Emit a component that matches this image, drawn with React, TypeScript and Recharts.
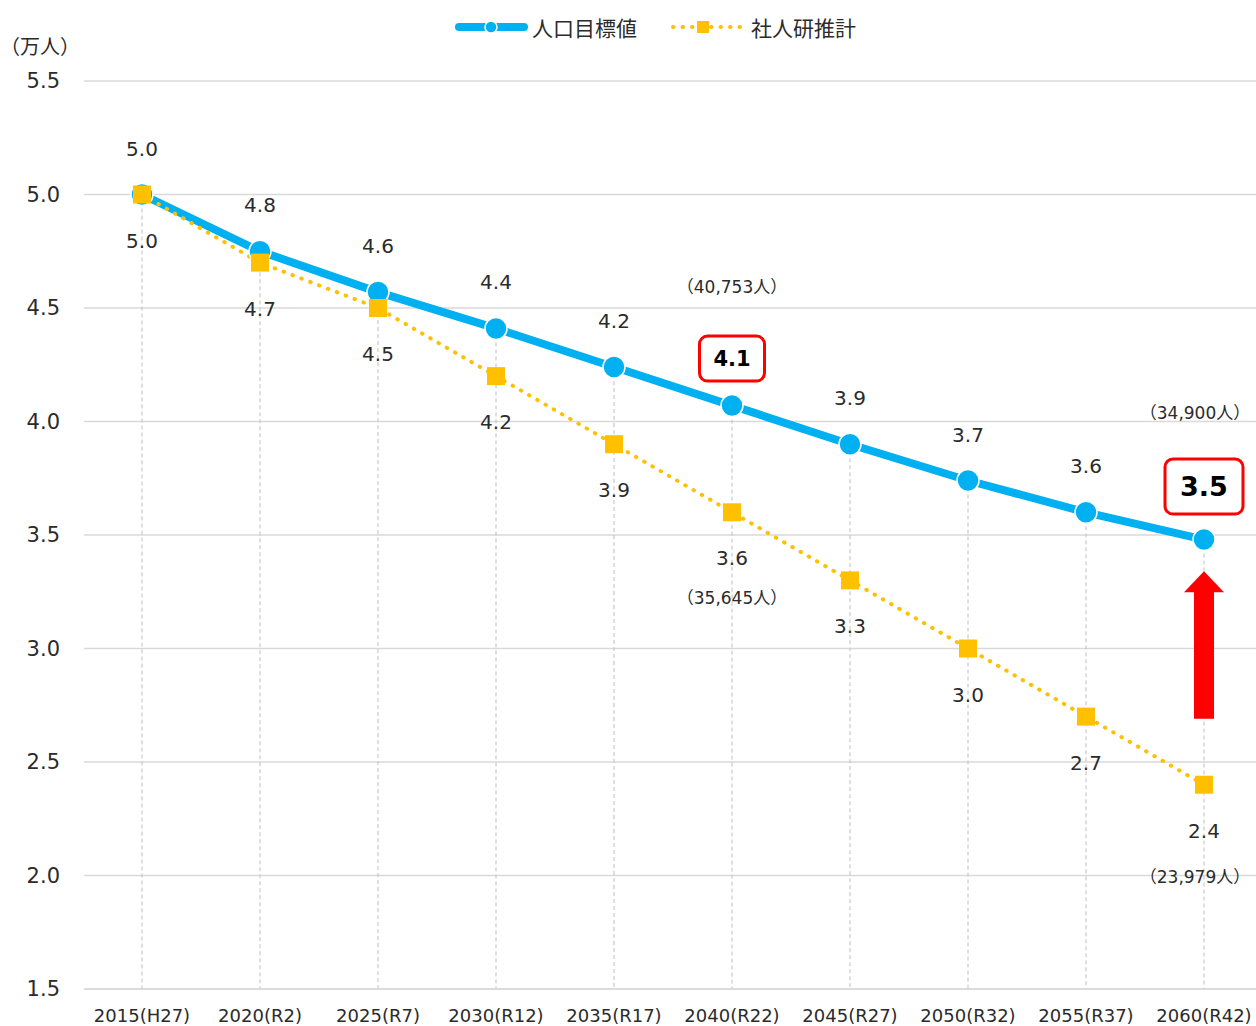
import React from "react";
import {
  LineChart, Line, XAxis, YAxis, CartesianGrid, LabelList, ReferenceLine,
} from "recharts";

const years = [
  "2015(H27)", "2020(R2)", "2025(R7)", "2030(R12)", "2035(R17)",
  "2040(R22)", "2045(R27)", "2050(R32)", "2055(R37)", "2060(R42)",
];
// 人口目標値 (万人)
const targetValues = [5.0, 4.75, 4.57, 4.41, 4.24, 4.07, 3.9, 3.74, 3.6, 3.48];
// 社人研推計 (万人)
const ipssValues = [5.0, 4.7, 4.5, 4.2, 3.9, 3.6, 3.3, 3.0, 2.7, 2.4];
const yTicks = [1.5, 2.0, 2.5, 3.0, 3.5, 4.0, 4.5, 5.0, 5.5];

// highlighted points and the people counts written next to them
const highlightYears = ["2040(R22)", "2060(R42)"];
const targetNotes = ["（40,753人）", "（34,900人）"];
const ipssNotes = ["（35,645人）", "（23,979人）"];
// red arrow at the last year, from / to (万人)
const arrowYear = "2060(R42)";
const arrowFrom = 2.69;
const arrowTo = 3.34;

const BLUE = "#00b0f0";
const ORANGE = "#ffc000";
const TEXT = "#2b2b2b";
const FONT = "'DejaVu Sans', 'Noto Sans CJK JP', sans-serif";

const data = years.map((year, i) => ({
  year,
  target: targetValues[i],
  ipss: ipssValues[i],
}));

const TargetLabel = (props: any) => {
  const { x, y, value, index } = props;
  const hi = highlightYears.indexOf(years[index]);
  const text = Number(value).toFixed(1);
  if (hi < 0) {
    return (
      <text x={x} y={y - 46} textAnchor="middle" dominantBaseline="central"
        fontSize={20} fill={TEXT} fontFamily={FONT}>
        {text}
      </text>
    );
  }
  const big = hi === 1;
  const w = big ? 78 : 65;
  const h = big ? 55 : 45;
  const cy = y - (big ? 53 : 47);
  return (
    <g>
      <rect x={x - w / 2} y={cy - h / 2} width={w} height={h} rx={8}
        fill="#fff" stroke="#ff0000" strokeWidth={3} />
      <text x={x} y={cy} textAnchor="middle" dominantBaseline="central"
        fontSize={big ? 27 : 21} fontWeight="bold" fill="#000" fontFamily={FONT}>
        {text}
      </text>
      <text x={x - (big ? 9 : 0)} y={y - (big ? 127 : 119)} textAnchor="middle" dominantBaseline="central"
        fontSize={17} fill={TEXT} fontFamily={FONT}>
        {targetNotes[hi]}
      </text>
    </g>
  );
};

const IpssLabel = (props: any) => {
  const { x, y, value, index } = props;
  const hi = highlightYears.indexOf(years[index]);
  return (
    <g>
      <text x={x} y={y + 46} textAnchor="middle" dominantBaseline="central"
        fontSize={20} fill={TEXT} fontFamily={FONT}>
        {Number(value).toFixed(1)}
      </text>
      {hi >= 0 && (
        <text x={x - (hi === 1 ? 9 : 0)} y={y + (hi === 1 ? 92 : 86)} textAnchor="middle" dominantBaseline="central"
          fontSize={17} fill={TEXT} fontFamily={FONT}>
          {ipssNotes[hi]}
        </text>
      )}
    </g>
  );
};

const SquareDot = (props: any) => {
  const { cx, cy } = props;
  if (cx == null || cy == null) return null;
  return <rect x={cx - 9} y={cy - 9} width={18} height={18} fill={ORANGE} />;
};

const Arrow = (props: any) => {
  const { x1, y1, x2, y2 } = props;
  if (x1 == null) return null;
  const x = (x1 + x2) / 2;
  const top = Math.min(y1, y2);
  const bottom = Math.max(y1, y2);
  const pts = [
    [x, top], [x + 20, top + 21], [x + 10, top + 21], [x + 10, bottom],
    [x - 10, bottom], [x - 10, top + 21], [x - 20, top + 21],
  ].map((p) => p.join(",")).join(" ");
  return <polygon points={pts} fill="#ff0000" />;
};

const DropLine = (props: any) => {
  const { x1, y1, x2, y2 } = props;
  if (x1 == null) return null;
  return <line x1={x1} y1={y1} x2={x2} y2={y2} stroke="#bfbfbf" strokeWidth={1} strokeDasharray="4 3" />;
};

export default function App() {
  return (
    <div style={{ position: "absolute", left: 0, top: 0, width: 1256, height: 1026, overflow: "hidden", background: "#fff", fontFamily: FONT }}>
      {/* legend */}
      <div style={{ position: "absolute", left: 450, top: 9, display: "flex", alignItems: "center", fontSize: 21, color: TEXT }}>
        <svg width={82} height={36}>
          <line x1={9} y1={18} x2={74} y2={18} stroke={BLUE} strokeWidth={8} strokeLinecap="round" />
          <circle cx={41} cy={18} r={6} fill={BLUE} stroke="#fff" strokeWidth={1.5} />
        </svg>
        <span>人口目標値</span>
        <svg width={84} height={36} style={{ marginLeft: 30 }}>
          <line x1={6} y1={18} x2={76} y2={18} stroke={ORANGE} strokeWidth={4} strokeDasharray="0.5 9" strokeLinecap="round" />
          <rect x={30} y={12} width={12} height={12} fill={ORANGE} />
        </svg>
        <span>社人研推計</span>
      </div>
      <div style={{ position: "absolute", left: 0, top: 31, fontSize: 20, color: TEXT }}>（万人）</div>

      <LineChart width={1256} height={1026} data={data}
        margin={{ top: 81, right: 0, bottom: 0, left: 0 }}>
        <CartesianGrid vertical={false} stroke="#d9d9d9" strokeWidth={1.5} />
        <XAxis dataKey="year" padding={{ left: 58, right: 52 }} height={37}
          axisLine={{ stroke: "#d9d9d9", strokeWidth: 1.5 }} tickLine={false} tickSize={0} tickMargin={20}
          tick={{ fontSize: 18, fill: TEXT, fontFamily: FONT }} interval={0} />
        <YAxis domain={[1.5, 5.5]} ticks={yTicks} width={84} axisLine={false} tickLine={false}
          tickSize={0} tickMargin={24} tickFormatter={(v: number) => v.toFixed(1)}
          tick={{ fontSize: 21, fill: TEXT, fontFamily: FONT }} />
        {data.map((d) => (
          <ReferenceLine key={d.year} segment={[{ x: d.year, y: d.target }, { x: d.year, y: 1.5 }]}
            shape={DropLine} />
        ))}
        <Line dataKey="target" stroke={BLUE} strokeWidth={8} isAnimationActive={false}
          dot={{ r: 11, fill: BLUE, stroke: "#fff", strokeWidth: 1.5 }} activeDot={false}>
          <LabelList dataKey="target" content={TargetLabel} />
        </Line>
        <Line dataKey="ipss" stroke={ORANGE} strokeWidth={4} strokeDasharray="0.5 9" strokeLinecap="round"
          isAnimationActive={false} dot={SquareDot} activeDot={false}>
          <LabelList dataKey="ipss" content={IpssLabel} />
        </Line>
        <ReferenceLine segment={[{ x: arrowYear, y: arrowFrom }, { x: arrowYear, y: arrowTo }]}
          shape={Arrow} />
      </LineChart>
    </div>
  );
}
